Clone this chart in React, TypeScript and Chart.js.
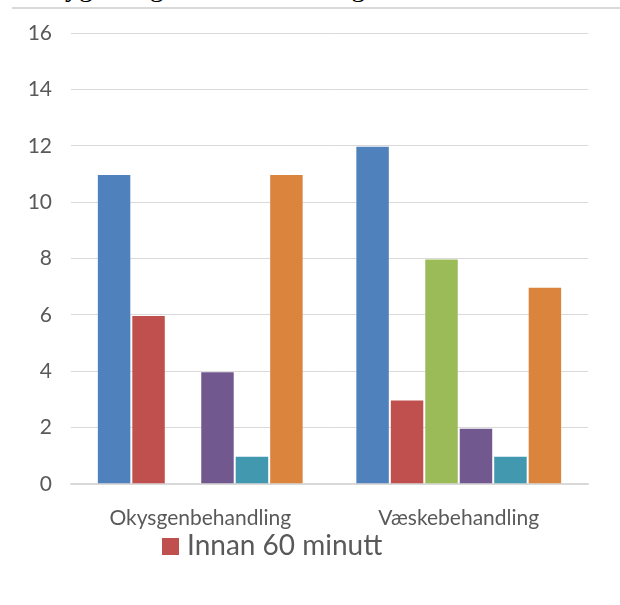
import React, { useEffect, useRef } from "react";
import { Chart, registerables } from "chart.js";

Chart.register(...registerables);

// Categories on the x axis
const categories = ["Okysgenbehandling", "Væskebehandling"];

// Series names (only the red series is shown in the legend)
const seriesLabels = ["Serie 1", "Innan 60 minutt", "Serie 3", "Serie 4", "Serie 5", "Serie 6"];

// Values per series, one entry per category
const serie1 = [11, 12];
const innan60 = [6, 3];
const serie3 = [0, 8];
const serie4 = [4, 2];
const serie5 = [1, 1];
const serie6 = [11, 7];

const seriesValues = [serie1, innan60, serie3, serie4, serie5, serie6];
const seriesColors = ["#4F81BD", "#C0504D", "#9BBB59", "#71588F", "#4198AF", "#DB843D"];

// y axis range
const yMin = 0;
const yMax = 16;
const yStep = 2;

const FONT = "Lato, 'Open Sans', sans-serif";
const TEXT_GREY = "#595959";
const GRID_GREY = "#D9D9D9";

export default function App() {
  const canvasRef = useRef<HTMLCanvasElement | null>(null);

  useEffect(() => {
    const canvas = canvasRef.current;
    if (!canvas) return;
    const chart = new Chart(canvas, {
      type: "bar",
      data: {
        labels: categories,
        datasets: seriesValues.map((vals, i) => ({
          label: seriesLabels[i],
          data: vals,
          backgroundColor: seriesColors[i],
          borderColor: "rgba(255,255,255,0.2)",
          borderWidth: 1,
          categoryPercentage: 0.8,
          barPercentage: 1.0,
        })),
      },
      options: {
        responsive: false,
        animation: false,
        layout: { padding: { left: 0, right: 32, top: 33, bottom: 61 } },
        plugins: {
          legend: { display: false },
          tooltip: { enabled: false },
          title: { display: false },
        },
        scales: {
          x: {
            grid: { display: false },
            border: { display: true, color: GRID_GREY, width: 1.5 },
            ticks: {
              color: TEXT_GREY,
              font: { family: FONT, size: 21 },
              padding: 14,
              maxRotation: 0,
            },
            afterFit: (scale: any) => {
              scale.height = 60;
            },
          },
          y: {
            min: yMin,
            max: yMax,
            grid: { color: GRID_GREY, lineWidth: 1, drawTicks: false },
            border: { display: false },
            ticks: {
              stepSize: yStep,
              color: TEXT_GREY,
              font: { family: FONT, size: 21 },
              padding: 19,
            },
            afterFit: (scale: any) => {
              scale.width = 71;
            },
          },
        },
      },
    });
    return () => chart.destroy();
  }, []);

  return (
    <div
      style={{
        position: "fixed",
        left: 0,
        top: 0,
        width: 620,
        height: 605,
        overflow: "hidden",
        background: "#ffffff",
      }}
    >
      <div
        style={{
          position: "absolute",
          left: 20,
          top: -27,
          fontFamily: "'Liberation Serif', serif",
          fontSize: 28,
          lineHeight: "28px",
          whiteSpace: "nowrap",
          color: "#000",
        }}
      >
        Oksygen- og væskebehandling
      </div>
      <div
        style={{
          position: "absolute",
          left: 12,
          top: 7,
          width: 608,
          height: 2,
          background: GRID_GREY,
        }}
      />
      <canvas
        ref={canvasRef}
        width={620}
        height={605}
        style={{ position: "absolute", left: 0, top: 0, width: 620, height: 605 }}
      />
      <div
        style={{
          position: "absolute",
          left: 162,
          top: 538,
          width: 17,
          height: 17,
          background: seriesColors[1],
        }}
      />
      <div
        style={{
          position: "absolute",
          left: 187,
          top: 528,
          fontFamily: FONT,
          fontSize: 28,
          lineHeight: 1.2,
          color: TEXT_GREY,
          whiteSpace: "nowrap",
        }}
      >
        {seriesLabels[1]}
      </div>
    </div>
  );
}
